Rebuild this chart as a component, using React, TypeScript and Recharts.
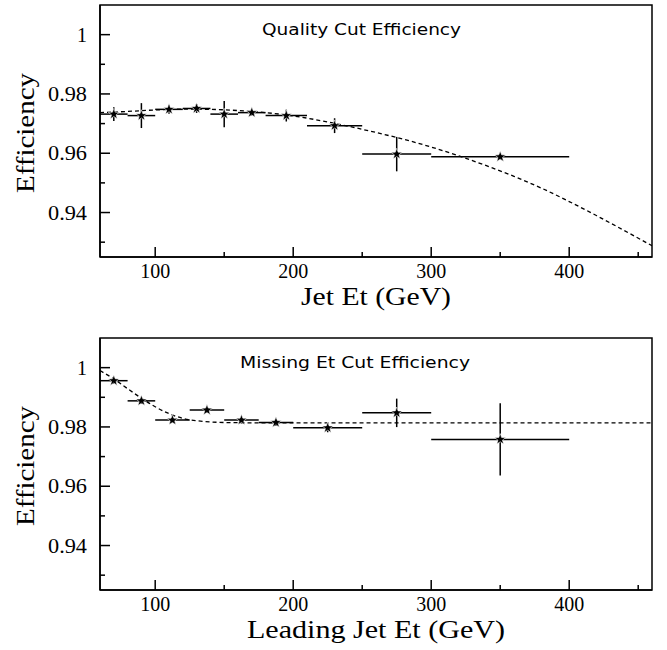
import { ComposedChart, Scatter, Line, XAxis, YAxis, ErrorBar, ReferenceArea } from "recharts";

const X_TICKS = [100, 150, 200, 250, 300, 350, 400, 450];
const X_LABELED = [100, 200, 300, 400];
const Y_TICKS = [0.93, 0.94, 0.95, 0.96, 0.97, 0.98, 0.99, 1];
const Y_LABELED = ["0.94", "0.96", "0.98", "1"];

// Quality cut efficiency vs jet Et
const qualityEt = [70, 90, 110, 130, 150, 170, 195, 230, 275, 350];
const qualityHalfBin = [10, 10, 10, 10, 10, 10, 15, 20, 25, 50];
const qualityEff = [0.9732, 0.9727, 0.9748, 0.9751, 0.9732, 0.9737, 0.9727, 0.9693, 0.9597, 0.9588];
const qualityErr = [0.0023, 0.0042, 0.0015, 0.0015, 0.0044, 0.001, 0.002, 0.0025, 0.0058, 0.0008];
const qualityFitEt = [60, 80, 100, 120, 140, 160, 180, 200, 220, 240, 260, 280, 300, 320, 340, 360, 380, 400, 420, 440, 460];
const qualityFitEff = [0.9737, 0.9741, 0.9746, 0.9749, 0.9748, 0.9744, 0.9737, 0.9726, 0.971, 0.9691, 0.967, 0.9647, 0.9621, 0.9591, 0.9558, 0.9522, 0.9482, 0.9437, 0.9389, 0.9339, 0.9288];

// Missing Et cut efficiency vs leading jet Et
const metEt = [70, 90, 112.5, 137.5, 162.5, 187.5, 225, 275, 350];
const metHalfBin = [10, 10, 12.5, 12.5, 12.5, 12.5, 25, 25, 50];
const metEff = [0.9956, 0.9888, 0.9823, 0.9857, 0.9823, 0.9815, 0.9797, 0.98475, 0.9758];
const metErr = [0.001, 0.001, 0.0008, 0.001, 0.0008, 0.0012, 0.0015, 0.0048, 0.0122];
const metFitEt = [60, 70, 80, 90, 100, 110, 120, 130, 140, 150, 170, 200, 250, 300, 350, 400, 460];
const metFitEff = [0.999, 0.9962, 0.9929, 0.9897, 0.9868, 0.9845, 0.9829, 0.9821, 0.9817, 0.9815, 0.9814, 0.9814, 0.9814, 0.9814, 0.9814, 0.9814, 0.9814];

const SERIF = '"Liberation Serif", "Times New Roman", serif';
const SANS = '"DejaVu Sans", sans-serif';

function pts(et: number[], half: number[], eff: number[], err: number[]) {
  return et.map((e, i) => ({ et: e, eff: eff[i], ex: half[i], ey: err[i] }));
}
function fit(et: number[], eff: number[]) {
  return et.map((e, i) => ({ et: e, eff: eff[i] }));
}

function Star(props: any) {
  const { cx, cy } = props;
  if (cx == null || cy == null) return null;
  const p: string[] = [];
  for (let k = 0; k < 10; k++) {
    const r = k % 2 === 0 ? 5.8 : 2.4;
    const a = -Math.PI / 2 + (k * Math.PI) / 5;
    p.push(`${cx + r * Math.cos(a)},${cy + r * Math.sin(a)}`);
  }
  return <polygon points={p.join(" ")} fill="#000" stroke="#fff" strokeWidth={0.6} />;
}

const Nothing = () => <g />;

function XTick(props: any) {
  const { x, y, payload } = props;
  const major = X_LABELED.includes(payload.value);
  return (
    <g>
      <line x1={x} x2={x} y1={y} y2={y - (major ? 10 : 5)} stroke="#000" strokeWidth={1.5} />
      {major && (
        <text x={x} y={y + 21} textAnchor="middle" fontFamily={SERIF} fontSize={20} fill="#000">
          {payload.value}
        </text>
      )}
    </g>
  );
}

function YTick(props: any) {
  const { x, y, payload } = props;
  const lab = payload.value === 1 ? "1" : payload.value.toFixed(2);
  const major = Y_LABELED.includes(lab);
  return (
    <g>
      <line x1={x} x2={x + (major ? 10 : 5)} y1={y} y2={y} stroke="#000" strokeWidth={1.5} />
      {major && (
        <text x={x - 13} y={y} dy="0.35em" textAnchor="end" fontFamily={SERIF} fontSize={20} fill="#000"
          textLength={lab.length > 1 ? 39 : undefined} lengthAdjust="spacingAndGlyphs">
          {lab}
        </text>
      )}
    </g>
  );
}

function Panel({ data, fitData, title, titleDx, titleLen, xTitle, xTitleLen }: any) {
  return (
    <ComposedChart width={667} height={317} margin={{ top: 5, right: 15, bottom: 0, left: 0 }}>
      <XAxis
        type="number"
        dataKey="et"
        domain={[60, 460]}
        allowDataOverflow
        ticks={X_TICKS}
        interval={0}
        height={60}
        tickSize={0}
        tickMargin={0}
        tickLine={false}
        tick={<XTick />}
        axisLine={{ stroke: "#000", strokeWidth: 1.5 }}
        label={{
          content: (p: any) => {
            const vb = p.viewBox;
            return (
              <text x={vb.x + vb.width / 2} y={vb.y + 48} textAnchor="middle" fontFamily={SERIF} fontSize={25}
                textLength={xTitleLen} lengthAdjust="spacingAndGlyphs" fill="#000">
                {xTitle}
              </text>
            );
          },
        }}
      />
      <YAxis
        type="number"
        domain={[0.925, 1.01]}
        allowDataOverflow
        ticks={Y_TICKS}
        interval={0}
        width={100}
        tickSize={0}
        tickMargin={0}
        tickLine={false}
        tick={<YTick />}
        axisLine={{ stroke: "#000", strokeWidth: 1.5 }}
        label={{
          content: (p: any) => {
            const vb = p.viewBox;
            const cx = vb.x + 34;
            const cy = vb.y + vb.height / 2 + 2;
            return (
              <text x={cx} y={cy} transform={`rotate(-90 ${cx} ${cy})`} textAnchor="middle" fontFamily={SERIF}
                fontSize={25} textLength={120} lengthAdjust="spacingAndGlyphs" fill="#000">
                Efficiency
              </text>
            );
          },
        }}
      />
      <Line data={fitData} dataKey="eff" type="monotone" stroke="#000" strokeWidth={1.3} strokeDasharray="4 3"
        dot={false} isAnimationActive={false} />
      {/* error bars first, stars drawn on top by a second series */}
      <Scatter data={data} dataKey="eff" shape={<Nothing />} isAnimationActive={false}>
        <ErrorBar dataKey="ex" direction="x" width={0} stroke="#000" strokeWidth={1.5} isAnimationActive={false} />
        <ErrorBar dataKey="ey" direction="y" width={0} stroke="#000" strokeWidth={1.5} isAnimationActive={false} />
      </Scatter>
      <Scatter data={data} dataKey="eff" shape={<Star />} isAnimationActive={false} zIndex={3000} />
      <ReferenceArea
        x1={60}
        x2={460}
        y1={0.925}
        y2={1.01}
        fill="none"
        fillOpacity={0}
        stroke="#000"
        strokeWidth={1.5}
        label={{
          content: (p: any) => {
            const vb = p.viewBox;
            return (
              <text x={vb.x + titleDx} y={vb.y + 30} fontFamily={SANS} fontSize={16} textLength={titleLen}
                lengthAdjust="spacingAndGlyphs" fill="#000">
                {title}
              </text>
            );
          },
        }}
      />
    </ComposedChart>
  );
}

export default function App() {
  return (
    <div style={{ position: "absolute", left: 0, top: 0, width: 667, height: 650, background: "#fff", overflow: "hidden" }}>
      <div style={{ position: "absolute", left: 0, top: 0 }}>
        <Panel
          data={pts(qualityEt, qualityHalfBin, qualityEff, qualityErr)}
          fitData={fit(qualityFitEt, qualityFitEff)}
          title="Quality Cut Efficiency"
          titleDx={162}
          titleLen={199}
          xTitle="Jet Et (GeV)"
          xTitleLen={150}
        />
      </div>
      <div style={{ position: "absolute", left: 0, top: 333 }}>
        <Panel
          data={pts(metEt, metHalfBin, metEff, metErr)}
          fitData={fit(metFitEt, metFitEff)}
          title="Missing Et Cut Efficiency"
          titleDx={140}
          titleLen={230}
          xTitle="Leading Jet Et (GeV)"
          xTitleLen={258}
        />
      </div>
    </div>
  );
}
